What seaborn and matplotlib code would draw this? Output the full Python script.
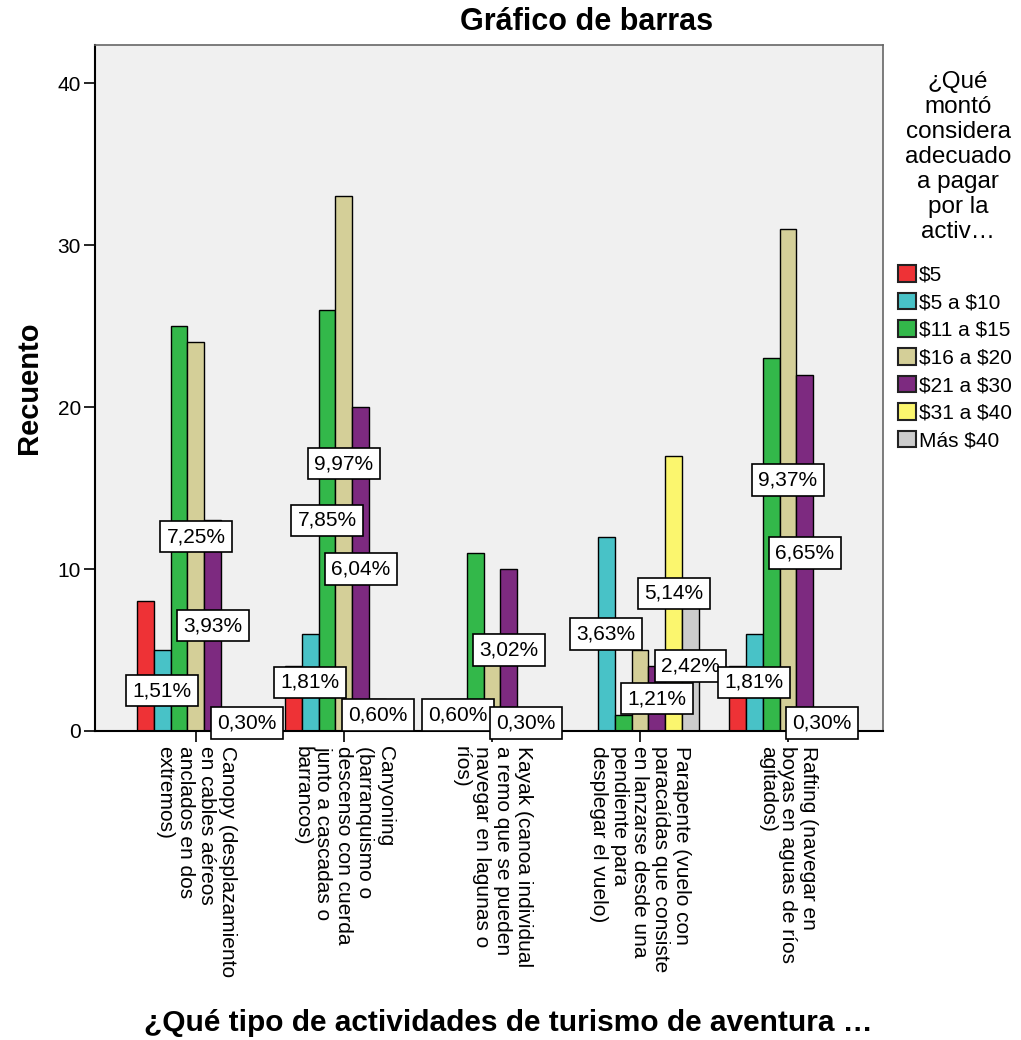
import matplotlib
matplotlib.use("Agg")
import matplotlib.pyplot as plt
import seaborn as sns
import pandas as pd

# Activity categories (x axis)
actividades = [
    "Canopy (desplazamiento\nen cables aéreos\nanclados en dos\nextremos)",
    "Canyoning\n(barranquismo o\ndescenso con cuerda\njunto a cascadas o\nbarrancos)",
    "Kayak (canoa individual\na remo que se pueden\nnavegar en lagunas o\nríos)",
    "Parapente (vuelo con\nparacaídas que consiste\nen lanzarse desde una\npendiente para\ndesplegar el vuelo)",
    "Rafting (navegar en\nboyas en aguas de ríos\nagitados)",
]

# Amount ranges (hue)
montos = ["$5", "$5 a $10", "$11 a $15", "$16 a $20", "$21 a $30", "$31 a $40", "Más $40"]

# Counts per amount range, one value per activity
c_5 = [8, 4, 0, 0, 4]
c_5_10 = [5, 6, 2, 12, 6]
c_11_15 = [25, 26, 11, 1, 23]
c_16_20 = [24, 33, 6, 5, 31]
c_21_30 = [13, 20, 10, 4, 22]
c_31_40 = [0, 2, 1, 17, 1]
c_mas_40 = [1, 0, 0, 8, 0]

colores = ["#ee3236", "#48c2c7", "#33b84a", "#d4cf98", "#7d2a80", "#fbf66e", "#cccccc"]

# Bars that carry a percentage label: (activity index, amount index)
etiquetadas = [
    (0, 1), (0, 3), (0, 4), (0, 6),
    (1, 1), (1, 2), (1, 3), (1, 4), (1, 5),
    (2, 1), (2, 4), (2, 5),
    (3, 1), (3, 4), (3, 5), (3, 6),
    (4, 1), (4, 3), (4, 4), (4, 5),
]

series = [c_5, c_5_10, c_11_15, c_16_20, c_21_30, c_31_40, c_mas_40]
filas = []
for monto, valores in zip(montos, series):
    for act, v in zip(actividades, valores):
        filas.append({"actividad": act, "monto": monto, "n": v})
df = pd.DataFrame(filas)
total = df["n"].sum()

sns.set_theme(style="white")
plt.rcParams["font.family"] = ["Liberation Sans", "DejaVu Sans"]
plt.rcParams["text.color"] = "black"
plt.rcParams["axes.labelcolor"] = "black"
plt.rcParams["xtick.color"] = "black"
plt.rcParams["ytick.color"] = "black"

fig = plt.figure(figsize=(10.21, 10.40), dpi=100)
W, H = 1021, 1040
ax = fig.add_axes([95 / W, 1 - 731 / H, (883 - 95) / W, (731 - 45) / H])
ax.set_facecolor("#f0f0f0")

sns.barplot(
    data=df, x="actividad", y="n", hue="monto",
    order=actividades, hue_order=montos, palette=colores,
    saturation=1, width=0.8, errorbar=None,
    edgecolor="black", linewidth=1.0, legend=False, ax=ax,
)

ax.set_xlim(-0.682, 4.642)
ax.set_ylim(0, 42.35)
ax.set_yticks([0, 10, 20, 30, 40])

# Axis styling
for side in ["top", "right"]:
    ax.spines[side].set_color("#666666")
    ax.spines[side].set_linewidth(1.2)
for side in ["left", "bottom"]:
    ax.spines[side].set_color("black")
    ax.spines[side].set_linewidth(1.5)

ax.tick_params(axis="y", direction="out", length=8, width=1.2, color="black",
               pad=2, labelsize=15, left=True)
ax.tick_params(axis="x", direction="out", length=8, width=1.2, color="black",
               pad=3, labelsize=15, bottom=True)
ax.set_xticks(range(len(actividades)))
ax.set_xticklabels(actividades, rotation=270, ha="center", va="top",
                   multialignment="left", linespacing=1.12)

ax.set_ylabel("Recuento", fontsize=21, fontweight="bold")
ax.yaxis.set_label_coords(-0.066, 0.5)
ax.set_xlabel("¿Qué tipo de actividades de turismo de aventura …",
              fontsize=21.5, fontweight="bold")
ax.xaxis.set_label_coords(0.525, -0.405)

fig.text(587 / W, 1 - 22 / H, "Gráfico de barras", fontsize=22,
         fontweight="bold", ha="center", va="center")

# Percentage labels centred on the bars
for i_act, i_monto in etiquetadas:
    barra = ax.containers[i_monto].patches[i_act]
    v = barra.get_height()
    x = barra.get_x() + barra.get_width() / 2
    texto = f"{100 * v / total:.2f}%".replace(".", ",")
    ax.text(x, v / 2, texto, ha="center", va="center", fontsize=15,
            zorder=10 + (50 - v) / 100,
            bbox=dict(boxstyle="square,pad=0.3", facecolor="white",
                      edgecolor="black", linewidth=1.2))

# Legend title, then the legend entries below it
fig.text(958 / W, 1 - 157 / H,
         "¿Qué\nmontó\nconsidera\nadecuado\na pagar\npor la\nactiv…",
         fontsize=17.5, ha="center", va="center", multialignment="center",
         linespacing=1.18)

handles = [c.patches[0] for c in ax.containers]
etiquetas = [m.replace("$", r"\$") for m in montos]
leg = ax.legend(
    handles, etiquetas,
    loc="upper left", bbox_to_anchor=(898 / W, 1 - 265 / H),
    bbox_transform=fig.transFigure, frameon=False, fontsize=15,
    borderpad=0, borderaxespad=0,
    handlelength=0.85, handleheight=0.85, handletextpad=0.15,
    labelspacing=0.39,
)
for h in leg.legend_handles:
    h.set_edgecolor("#222222")
    h.set_linewidth(1.5)

fig.savefig("out.png", dpi=100, facecolor="white")
